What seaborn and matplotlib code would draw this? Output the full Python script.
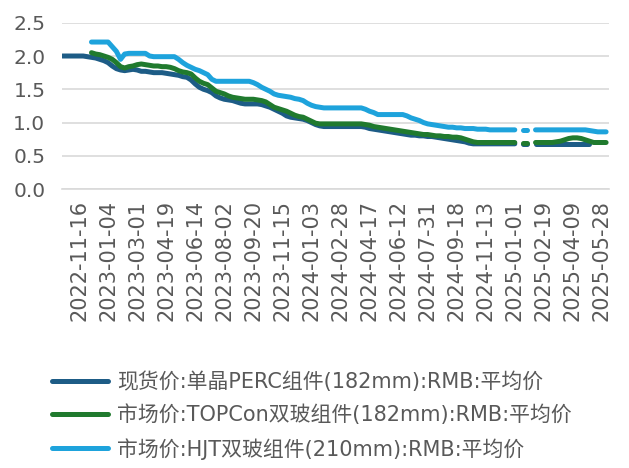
import numpy as np
import pandas as pd
import matplotlib
matplotlib.use("Agg")
import matplotlib.pyplot as plt
from matplotlib.lines import Line2D
import seaborn as sns

nan = np.nan

# x-axis category labels (one shown every 7 categories)
tick_dates = ['2022-11-16', '2023-01-04', '2023-03-01', '2023-04-19', '2023-06-14',
              '2023-08-02', '2023-09-20', '2023-11-15', '2024-01-03', '2024-02-28',
              '2024-04-17', '2024-06-12', '2024-07-31', '2024-09-18', '2024-11-13',
              '2025-01-01', '2025-02-19', '2025-04-09', '2025-05-28']

series_names = ['现货价:单晶PERC组件(182mm):RMB:平均价',
                '市场价:TOPCon双玻组件(182mm):RMB:平均价',
                '市场价:HJT双玻组件(210mm):RMB:平均价']
colors = ['#1d5c86', '#207a2e', '#1ea3dc']

# weekly prices, 132 categories
perc = [2.00, 2.00, 2.00, 2.00, 2.00, 2.00, 1.99, 1.98, 1.97, 1.95,
        1.93, 1.90, 1.85, 1.81, 1.79, 1.78, 1.79, 1.80, 1.79, 1.77,
        1.77, 1.76, 1.75, 1.75, 1.75, 1.74, 1.73, 1.72, 1.71, 1.69,
        1.68, 1.64, 1.58, 1.53, 1.50, 1.48, 1.45, 1.40, 1.37, 1.35,
        1.34, 1.33, 1.31, 1.29, 1.28, 1.28, 1.28, 1.28, 1.27, 1.25,
        1.23, 1.20, 1.17, 1.14, 1.10, 1.08, 1.07, 1.06, 1.05, 1.03,
        1.00, 0.97, 0.95, 0.94, 0.94, 0.94, 0.94, 0.94, 0.94, 0.94,
        0.94, 0.94, 0.94, 0.93, 0.91, 0.90, 0.89, 0.88, 0.87, 0.86,
        0.85, 0.84, 0.83, 0.82, 0.81, 0.81, 0.80, 0.80, 0.79, 0.79,
        0.78, 0.77, 0.76, 0.75, 0.74, 0.73, 0.72, 0.71, 0.69, 0.68,
        0.68, 0.68, 0.68, 0.68, 0.68, 0.68, 0.68, 0.68, 0.68, 0.68,
        nan, 0.68, 0.68, nan, 0.68, 0.68, 0.68, 0.68, 0.68, 0.68,
        0.68, 0.68, 0.68, 0.68, 0.68, 0.68, 0.68, 0.68, nan, nan,
        nan, nan]

topcon = [nan, nan, nan, nan, nan, nan, nan, 2.05, 2.03, 2.02,
          2.00, 1.98, 1.95, 1.90, 1.84, 1.82, 1.84, 1.85, 1.87, 1.88,
          1.87, 1.86, 1.85, 1.85, 1.84, 1.84, 1.83, 1.81, 1.78, 1.76,
          1.75, 1.73, 1.67, 1.62, 1.59, 1.57, 1.52, 1.47, 1.45, 1.43,
          1.40, 1.38, 1.37, 1.36, 1.35, 1.35, 1.35, 1.34, 1.33, 1.31,
          1.27, 1.23, 1.21, 1.19, 1.17, 1.14, 1.11, 1.09, 1.08, 1.05,
          1.02, 0.99, 0.98, 0.98, 0.98, 0.98, 0.98, 0.98, 0.98, 0.98,
          0.98, 0.98, 0.98, 0.97, 0.96, 0.94, 0.93, 0.92, 0.91, 0.90,
          0.89, 0.88, 0.87, 0.86, 0.85, 0.84, 0.83, 0.82, 0.82, 0.81,
          0.80, 0.80, 0.79, 0.79, 0.78, 0.78, 0.77, 0.75, 0.73, 0.71,
          0.70, 0.70, 0.70, 0.70, 0.70, 0.70, 0.70, 0.70, 0.70, 0.70,
          nan, 0.70, 0.70, nan, 0.70, 0.70, 0.70, 0.70, 0.70, 0.71,
          0.72, 0.74, 0.76, 0.77, 0.77, 0.76, 0.74, 0.72, 0.70, 0.70,
          0.70, 0.70]

hjt = [nan, nan, nan, nan, nan, nan, nan, 2.21, 2.21, 2.21,
       2.21, 2.21, 2.14, 2.07, 1.95, 2.03, 2.04, 2.04, 2.04, 2.04,
       2.04, 2.00, 1.99, 1.99, 1.99, 1.99, 1.99, 1.99, 1.95, 1.90,
       1.86, 1.83, 1.80, 1.78, 1.75, 1.72, 1.65, 1.62, 1.62, 1.62,
       1.62, 1.62, 1.62, 1.62, 1.62, 1.62, 1.60, 1.57, 1.53, 1.50,
       1.47, 1.43, 1.41, 1.40, 1.39, 1.38, 1.36, 1.35, 1.33, 1.29,
       1.26, 1.24, 1.23, 1.22, 1.22, 1.22, 1.22, 1.22, 1.22, 1.22,
       1.22, 1.22, 1.22, 1.20, 1.17, 1.15, 1.12, 1.12, 1.12, 1.12,
       1.12, 1.12, 1.12, 1.10, 1.07, 1.05, 1.03, 1.00, 0.98, 0.97,
       0.96, 0.95, 0.94, 0.93, 0.93, 0.92, 0.92, 0.91, 0.91, 0.91,
       0.90, 0.90, 0.90, 0.89, 0.89, 0.89, 0.89, 0.89, 0.89, 0.89,
       nan, 0.89, 0.89, nan, 0.89, 0.89, 0.89, 0.89, 0.89, 0.89,
       0.89, 0.89, 0.89, 0.89, 0.89, 0.89, 0.89, 0.88, 0.87, 0.86,
       0.86, 0.86]

sns.set_theme(style="white")
plt.rcParams['font.family'] = ['DejaVu Sans', 'Noto Sans CJK SC']
text_color = '#595959'
grid_color = '#d9d9d9'

fig = plt.figure(figsize=(6.29, 4.68), dpi=100)
ax = fig.add_axes([0.0986, 0.596, 0.8696, 0.3554])

n = len(perc)
for name, vals, c in zip(series_names, [perc, topcon, hjt], colors):
    df = pd.DataFrame({'idx': np.arange(n), 'price': vals})
    df['seg'] = df['price'].isna().cumsum()
    df = df.dropna()
    sns.lineplot(data=df, x='idx', y='price', units='seg', estimator=None,
                 color=c, linewidth=3.6, solid_capstyle='round', ax=ax, legend=False)

ax.set_xlim(-0.1, 131.7)
ax.set_ylim(0, 2.5)
ax.set_yticks(np.arange(0, 2.51, 0.5))
ax.set_yticklabels([f'{v:.1f}' for v in np.arange(0, 2.51, 0.5)])
ax.yaxis.grid(True, color=grid_color, linewidth=1.2)
ax.set_axisbelow(True)

label_pos = np.arange(4, 131, 7)
ax.set_xticks(label_pos)
ax.set_xticklabels(tick_dates, rotation=90)
ax.set_xticks(np.arange(0, 132, 2), minor=True)
ax.tick_params(axis='x', which='major', length=0, pad=8, labelsize=15, labelcolor=text_color)
ax.tick_params(axis='x', which='minor', length=5, width=1, color=grid_color, direction='out')
ax.tick_params(axis='y', length=0, pad=12, labelsize=14.5, labelcolor=text_color)
ax.set_xlabel('')
ax.set_ylabel('')

for s in ['top', 'right', 'left']:
    ax.spines[s].set_visible(False)
ax.spines['bottom'].set_color(grid_color)
ax.spines['bottom'].set_linewidth(1.2)

handles = [Line2D([0], [0], color=c, linewidth=3.6, solid_capstyle='round') for c in colors]
leg = fig.legend(handles, series_names, loc='upper left', bbox_to_anchor=(0.083, 0.206),
                 frameon=False, fontsize=15, handlelength=2.7, handletextpad=0.42,
                 labelspacing=0.6, borderpad=0, borderaxespad=0)
for t in leg.get_texts():
    t.set_color(text_color)

fig.savefig('out.png', dpi=100)
